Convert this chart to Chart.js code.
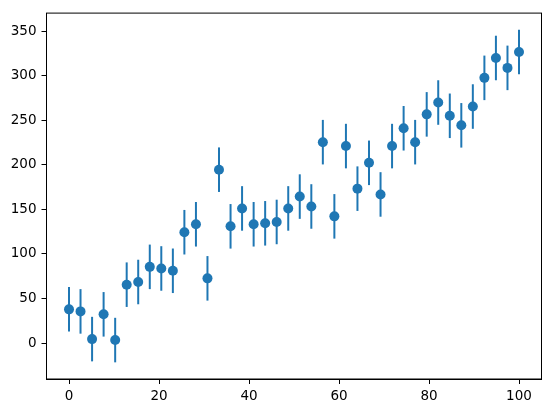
<!DOCTYPE html>
<html>
<head>
<meta charset="utf-8">
<script src="https://cdn.jsdelivr.net/npm/chart.js@4/dist/chart.umd.min.js"></script>
<style>
  html, body { margin: 0; padding: 0; background: #fff; }
  canvas { display: block; }
</style>
</head>
<body>
<canvas id="c" width="552" height="413"></canvas>
<script>
// values
const xValues = [0, 2.56, 5.13, 7.69, 10.26, 12.82, 15.38, 17.95, 20.51, 23.08,
  25.64, 28.21, 30.77, 33.33, 35.9, 38.46, 41.03, 43.59, 46.15, 48.72,
  51.28, 53.85, 56.41, 58.97, 61.54, 64.1, 66.67, 69.23, 71.79, 74.36,
  76.92, 79.49, 82.05, 84.62, 87.18, 89.74, 92.31, 94.87, 97.44, 100];
const yValues = [37.8, 35.5, 4.4, 32.2, 3.3, 65.5, 68.5, 85.5, 83.7, 81.1,
  124.4, 133.3, 72.6, 194.6, 131, 151.1, 133.3, 134.4, 135.9, 151.1,
  164.4, 153.3, 225.5, 142.2, 221.1, 173.3, 202.3, 166.8, 221.1, 241.1,
  225.5, 256.7, 270, 255.1, 244.4, 265.5, 297.7, 320, 308.9, 326.7];
const yErr = [25, 25, 25, 25, 25, 25, 25, 25, 25, 25,
  25, 25, 25, 25, 25, 25, 25, 25, 25, 25,
  25, 25, 25, 25, 25, 25, 25, 25, 25, 25,
  25, 25, 25, 25, 25, 25, 25, 25, 25, 25];
const xTicks = [0, 20, 40, 60, 80, 100];
const yTicks = [0, 50, 100, 150, 200, 250, 300, 350];

const blue = '#1f77b4';
const font = { family: 'DejaVu Sans', size: 13.5 };

// vertical error bars, drawn under the markers
const errorBars = {
  id: 'errorBars',
  beforeDatasetsDraw(chart) {
    const { ctx, scales } = chart;
    ctx.save();
    ctx.strokeStyle = blue;
    ctx.lineWidth = 2;
    xValues.forEach((x, i) => {
      const px = scales.x.getPixelForValue(x);
      ctx.beginPath();
      ctx.moveTo(px, scales.y.getPixelForValue(yValues[i] - yErr[i]));
      ctx.lineTo(px, scales.y.getPixelForValue(yValues[i] + yErr[i]));
      ctx.stroke();
    });
    ctx.restore();
  }
};

new Chart(document.getElementById('c'), {
  type: 'scatter',
  data: {
    datasets: [{
      data: xValues.map((x, i) => ({ x, y: yValues[i] })),
      backgroundColor: blue,
      borderWidth: 0,
      pointRadius: 5,
      pointHoverRadius: 5
    }]
  },
  options: {
    responsive: false,
    devicePixelRatio: 1,
    animation: false,
    layout: { padding: { top: 11, right: 10.5, left: 0, bottom: 0 } },
    plugins: { legend: { display: false }, tooltip: { enabled: false } },
    scales: {
      x: {
        min: -5, max: 105,
        afterBuildTicks: s => { s.ticks = xTicks.map(v => ({ value: v })); },
        afterFit: s => { s.height = 34; },
        grid: { drawOnChartArea: false, tickLength: 5, color: '#000', tickWidth: 1 },
        border: { color: '#000', width: 1 },
        ticks: { color: '#000', font, padding: 4, maxRotation: 0 }
      },
      y: {
        min: -40.4, max: 370.4,
        afterBuildTicks: s => { s.ticks = yTicks.map(v => ({ value: v })); },
        afterFit: s => { s.width = 46.5; },
        grid: { drawOnChartArea: false, tickLength: 5, color: '#000', tickWidth: 1 },
        border: { color: '#000', width: 1 },
        ticks: { color: '#000', font, padding: 5 }
      }
    }
  },
  plugins: [errorBars, {
    id: 'frame',
    afterDraw(chart) {
      const { ctx, chartArea: a } = chart;
      ctx.save();
      ctx.strokeStyle = '#000';
      ctx.lineWidth = 1;
      ctx.strokeRect(a.left, a.top, a.right - a.left, a.bottom - a.top);
      ctx.restore();
    }
  }]
});
</script>
</body>
</html>
